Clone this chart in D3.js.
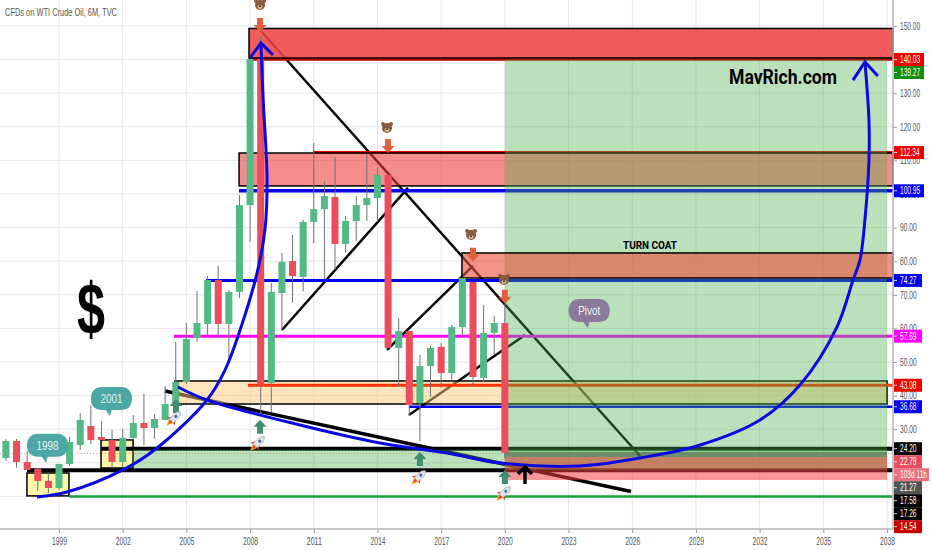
<!DOCTYPE html>
<html>
<head>
<meta charset="utf-8">
<script src="https://cdnjs.cloudflare.com/ajax/libs/d3/7.8.5/d3.min.js"></script>
<style>
  html, body { margin: 0; padding: 0; background: #fff; }
  svg { display: block; font-family: "Liberation Sans", sans-serif; }
</style>
</head>
<body>
<div id="chart"></div>
<script>
// half year candles, first one is 1996.5
var firstYear = 1996.5;
var candleOpen = [21.4, 26.5, 20.25, 18.15, 14.6, 12.5, 19.65, 25.3, 30.95, 27.7, 26.8, 20.25, 27.4, 31.85, 30.35, 32.75, 37.5, 44.05, 57.15, 61.3, 74.4, 61.3, 70.85, 96.7, 140.18, 43.75, 70.55, 80.05, 75.3, 91.7, 95.5, 99.1, 85.1, 91.95, 96.7, 98.8, 105.65, 54.2, 59.2, 37.8, 48.8, 54.5, 46.7, 60.4, 73.8, 45.25, 58.65, 61.6];
var candleHigh = [27, 27.1, 23.5, 18.45, 17, 19.65, 27.7, 34.8, 37.2, 32.4, 29.8, 30.1, 34.2, 40.5, 34.5, 42.85, 55.95, 61.6, 71.1, 75.6, 78.6, 71.45, 99.7, 140.18, 147, 73.5, 82.45, 87.8, 92.3, 115.2, 103.9, 111, 93.45, 99.4, 111.9, 108, 105.65, 63.1, 59.2, 52.1, 54.8, 55.7, 61, 75, 73.8, 66.95, 63.7, 67.25];
var candleLow = [20.55, 18.5, 17.85, 11.6, 11, 11.9, 19.05, 23.8, 25.6, 26.8, 18.5, 18.5, 26.8, 25.3, 27.1, 32.75, 37.5, 43.45, 55.95, 58, 57.15, 50.6, 69.05, 85.7, 34.5, 35.1, 59.5, 67.6, 71.1, 85.4, 74.7, 77.4, 82.45, 86, 91.95, 91.65, 54.2, 42.6, 33.95, 26.5, 39.6, 42.3, 44.35, 58, 42.55, 44.05, 52.1, 21.4];
var candleClose = [26.5, 20.25, 17.85, 14.6, 12.5, 19.65, 26.2, 32.75, 26.8, 26.8, 20.25, 27.4, 31.85, 30.35, 33.05, 37.5, 44.05, 56.85, 61.6, 74.4, 61.3, 70.85, 96.7, 140.18, 43.2, 70.85, 79.8, 75.6, 91.7, 95.5, 99.4, 85.1, 91.95, 96.7, 98.8, 105.65, 54.2, 59.2, 37.2, 48.8, 54.2, 46.7, 60.4, 75, 45.55, 58.65, 61.6, 23];

var yearTicks = [1999, 2002, 2005, 2008, 2011, 2014, 2017, 2020, 2023, 2026, 2029, 2032, 2035, 2038];
var priceTicks = [150, 140, 130, 120, 110, 100, 90, 80, 70, 60, 50, 40, 30, 20];
var priceGrid = priceTicks.concat([10]);
var plotEndYear = 2038.28;

// horizontal levels: price and the year each one starts at
var levelNames = ['peak', 'resistance', 'support', 'blueTop', 'pivot', 'orange', 'blueLow', 'blackTop', 'blackLow', 'floor'];
var levelPrices = [140.03, 112.34, 100.95, 74.27, 57.69, 43.08, 36.68, 24.2, 17.8, 10];
var levelStarts = [2007.95, 2010.96, 2007.48, 2005.92, 2004.42, 2007.9, 2015.48, 2000.98, 1997.49, 1999.47];

// boxes under the levels: year from, year to, price top, price bottom
var lowBoxNames = ['peach', 'yellow98', 'yellow01'];
var lowBoxYear0 = [2004.46, 1997.49, 2000.98];
var lowBoxYear1 = [2038, 1999.47, 2002.49];
var lowBoxTop = [44.35, 16.97, 26.8];
var lowBoxBottom = [37.5, 10.15, 18.46];

// boxes over the levels
var boxNames = ['top', 'middle', 'wideGreen', 'bigGreen', 'turnCoat', 'lowRed', 'lowGray'];
var boxYear0 = [2007.95, 2007.48, 2002.49, 2020, 2017.98, 2020, 2020];
var boxYear1 = [plotEndYear, plotEndYear, 2038, 2038, plotEndYear, 2038, 2038];
var boxPriceTop = [149.26, 112.2, 23.9, 140, 82.45, 21.74, 23.2];
var boxPriceBottom = [140.48, 102.4, 18.45, 17.87, 75, 14.9, 21.74];

// drawn trend lines: [year, price] pairs
var trendLines = [
  [[2008.47, 148.8], [2026.37, 22.03]],
  [[2009.5, 59.53], [2015.44, 101.8]],
  [[2014.45, 53.58], [2018.5, 78.58]],
  [[2015.48, 34.23], [2020.95, 58.04]],
  [[2003.99, 41.38], [2025.94, 11.47]]
];

// the two hand drawn blue arcs
var leftArc = [[1997.96, 9.83], [1999.38, 11.3], [2002.01, 17.87], [2003.62, 24.4], [2005.97, 38.7], [2006.82, 47.6], [2007.53, 59.5], [2008.33, 76.5], [2008.7, 89.3], [2008.8, 104.2], [2008.61, 128.9], [2008.51, 144.9]];
var leftHead = [[2008, 140.5], [2008.51, 144.9], [2009.08, 141.4]];
var rightArc = [[2004.6, 42.57], [2005.97, 38.7], [2010.35, 31.26], [2014.12, 25.9], [2017.27, 22.9], [2019.77, 19.95], [2023.54, 19.06], [2026.37, 21.44], [2029.2, 25.3], [2032.02, 32.75], [2033.9, 43.16], [2035.64, 60.4], [2036.4, 74.4], [2036.73, 80.4], [2036.96, 92.3], [2037.15, 110.1], [2037.15, 122], [2036.96, 139.3]];
var rightHead = [[2036.4, 133.9], [2036.96, 139.3], [2037.57, 135.1]];

// icons on the chart
var bears = [[2008.47, 156.25], [2014.45, 119.65], [2018.41, 87.8], [2019.96, 74.4]];
var downArrows = [[2008.47, 148.2], [2014.5, 112.2], [2018.5, 79.8], [2020, 67.3]];
var upArrows = [[2004.51, 39], [2008.47, 32.8], [2016, 23.2], [2020, 17.87]];
var rockets = [[2004.42, 33.3], [2008.37, 25.9], [2015.96, 15.8], [2019.96, 11]];
var blackArrow = [2020.95, 18.76];

var calloutTexts = ['1998', '2001', 'Pivot'];
var calloutTips = [[1998.39, 20], [2001.4, 33.9], [2023.9, 60.1]];

// stacked price labels on the right axis
var labelTexts = ['140.03', '139.27', '112.34', '100.95', '74.27', '57.69', '43.08', '36.68', '24.20', '22.79', '103d 11h', '21.27', '17.58', '17.26', '14.54'];
var labelPrices = [140.03, 139.27, 112.34, 100.95, 74.27, 57.69, 43.08, 36.68, 24.2, 22.79, 22.5, 21.27, 17.58, 17.26, 14.54];

var width = 932, height = 550;
var axisX = 893, axisY = 529;

var levelStyle = {
  peak: {c: '#c00000', w: 2.5}, resistance: {c: '#ee0000', w: 3},
  support: {c: '#0000ee', w: 3.5}, blueTop: {c: '#0000ee', w: 3},
  pivot: {c: '#ff00ff', w: 3}, orange: {c: '#ff3300', w: 3},
  blueLow: {c: '#0000ee', w: 2.5}, blackTop: {c: '#000', w: 4},
  blackLow: {c: '#000', w: 4}, floor: {c: '#1a9f3c', w: 2.5}
};
var boxStyle = {
  top: {f: '#ee4444', o: 0.88, s: '#000'}, middle: {f: '#ee3f3f', o: 0.6, s: '#000'},
  turnCoat: {f: '#e8503c', o: 0.62, s: '#000'}, peach: {f: '#fbc97a', o: 0.5, s: '#000'},
  wideGreen: {f: '#4caf50', o: 0.38, s: null}, bigGreen: {f: '#4caf50', o: 0.38, s: null},
  lowRed: {f: '#ee3f3f', o: 0.55, s: null}, lowGray: {f: '#404040', o: 0.45, s: null},
  yellow98: {f: '#fdf79a', o: 0.85, s: '#000'}, yellow01: {f: '#fdf79a', o: 0.85, s: '#000'}
};
var labelStyle = ['#f00000', '#109010', '#f00000', '#0000ee', '#0000ee', '#ff00ff', '#f00000', '#0000ee', '#000', '#eb4d5c', '#e9707c', '#555', '#000', '#000', '#c40000'];
var labelWidth = [30, 30, 30, 30, 28, 28, 28, 28, 28, 28, 35, 28, 28, 28, 28];

var x = d3.scaleLinear().domain([1999, 2038]).range([59, 887]);
var y = d3.scaleLinear().domain([150, 10]).range([26, 496.4]);

// the screenshot is squeezed sideways, so all small text is narrowed to this many px a letter
function squeeze(sel, perChar) {
  sel.attr('textLength', function () { return this.textContent.length * perChar; })
    .attr('lengthAdjust', 'spacingAndGlyphs');
}

var svg = d3.select('#chart').append('svg')
  .attr('width', width)
  .attr('height', height);

// grid
var grid = svg.append('g').attr('stroke', '#e6e6e6').attr('stroke-width', 1);
grid.selectAll('.v').data(yearTicks).enter().append('line')
  .attr('class', 'v')
  .attr('x1', function (d) { return x(d); })
  .attr('x2', function (d) { return x(d); })
  .attr('y1', 0).attr('y2', axisY);
grid.selectAll('.h').data(priceGrid).enter().append('line')
  .attr('class', 'h')
  .attr('x1', 0).attr('x2', axisX)
  .attr('y1', function (d) { return y(d); })
  .attr('y2', function (d) { return y(d); });

// trend lines sit under everything else
var trendWidth = [2.5, 2.5, 2.5, 2.5, 3.5];
var path = d3.line()
  .x(function (d) { return x(d[0]); })
  .y(function (d) { return y(d[1]); });
svg.append('g').selectAll('path').data(trendLines).enter().append('path')
  .attr('d', path)
  .attr('fill', 'none')
  .attr('stroke', '#000')
  .attr('stroke-width', function (d, i) { return trendWidth[i]; });

function drawBoxes(names, year0, year1, top, bottom) {
  svg.append('g').selectAll('rect').data(names).enter().append('rect')
    .attr('x', function (d, i) { return x(year0[i]); })
    .attr('y', function (d, i) { return y(top[i]); })
    .attr('width', function (d, i) { return x(year1[i]) - x(year0[i]); })
    .attr('height', function (d, i) { return y(bottom[i]) - y(top[i]); })
    .attr('fill', function (d) { return boxStyle[d].f; })
    .attr('fill-opacity', function (d) { return boxStyle[d].o; })
    .attr('stroke', function (d) { return boxStyle[d].s; })
    .attr('stroke-width', 1.5);
}

drawBoxes(lowBoxNames, lowBoxYear0, lowBoxYear1, lowBoxTop, lowBoxBottom);

// levels
svg.append('g').selectAll('line').data(levelNames).enter().append('line')
  .attr('x1', function (d, i) { return x(levelStarts[i]); })
  .attr('x2', axisX)
  .attr('y1', function (d, i) { return y(levelPrices[i]); })
  .attr('y2', function (d, i) { return y(levelPrices[i]); })
  .attr('stroke', function (d) { return levelStyle[d].c; })
  .attr('stroke-width', function (d) { return levelStyle[d].w; });

// last price dotted line
svg.append('line')
  .attr('x1', 0).attr('x2', axisX)
  .attr('y1', y(22.79)).attr('y2', y(22.79))
  .attr('stroke', '#eb4d5c')
  .attr('stroke-opacity', 0.6)
  .attr('stroke-dasharray', '1,2');

drawBoxes(boxNames, boxYear0, boxYear1, boxPriceTop, boxPriceBottom);

// candles
var candles = candleOpen.map(function (o, i) {
  return {t: firstYear + i * 0.5, o: o, h: candleHigh[i], l: candleLow[i], c: candleClose[i]};
});
var bodyW = x(0.33) - x(0);
var candle = svg.append('g').selectAll('g').data(candles).enter().append('g');
candle.append('line')
  .attr('x1', function (d) { return x(d.t); })
  .attr('x2', function (d) { return x(d.t); })
  .attr('y1', function (d) { return y(d.h); })
  .attr('y2', function (d) { return y(d.l); })
  .attr('stroke', '#737375')
  .attr('stroke-width', 1);
candle.append('rect')
  .attr('x', function (d) { return x(d.t) - bodyW / 2; })
  .attr('width', bodyW)
  .attr('y', function (d) { return y(Math.max(d.o, d.c)); })
  .attr('height', function (d) { return Math.max(1, Math.abs(y(d.o) - y(d.c))); })
  .attr('fill', function (d) { return d.c >= d.o ? '#53b987' : '#eb4d5c'; });

// blue arcs
var smooth = d3.line()
  .x(function (d) { return x(d[0]); })
  .y(function (d) { return y(d[1]); })
  .curve(d3.curveCatmullRom);
[leftArc, rightArc].forEach(function (arc) {
  svg.append('path').attr('d', smooth(arc))
    .attr('fill', 'none').attr('stroke', '#0a0ae0').attr('stroke-width', 3);
});
[leftHead, rightHead].forEach(function (head) {
  svg.append('path').attr('d', path(head))
    .attr('fill', 'none').attr('stroke', '#0a0ae0').attr('stroke-width', 3);
});

// icons
function translate(d) {
  return 'translate(' + x(d[0]) + ',' + y(d[1]) + ')';
}

svg.append('g').selectAll('path').data(downArrows).enter().append('path')
  .attr('transform', translate)
  .attr('d', 'M0,0L-6.5,-7L-3,-7L-3,-14L3,-14L3,-7L6.5,-7Z')
  .attr('fill', '#e0603f');

svg.append('g').selectAll('path').data(upArrows).enter().append('path')
  .attr('transform', translate)
  .attr('d', 'M0,0L-6.5,7L-3,7L-3,14L3,14L3,7L6.5,7Z')
  .attr('fill', '#3f8f6f');

var bear = svg.append('g').selectAll('g').data(bears).enter().append('g')
  .attr('transform', translate);
[[-4, -4, 2], [4, -4, 2], [0, 0, 5]].forEach(function (p) {
  bear.append('circle').attr('cx', p[0]).attr('cy', p[1]).attr('r', p[2]).attr('fill', '#8a5a3a');
});
bear.append('ellipse').attr('cy', 2).attr('rx', 2.6).attr('ry', 2).attr('fill', '#d9b48a');
bear.append('circle').attr('cy', 1.2).attr('r', 0.9).attr('fill', '#222');

var rocket = svg.append('g').selectAll('g').data(rockets).enter().append('g')
  .attr('transform', function (d) { return translate(d) + ' rotate(45)'; });
rocket.append('path').attr('d', 'M-3,4L0,11L3,4Z').attr('fill', '#f5a623');
rocket.append('path').attr('d', 'M-1.5,4L0,8L1.5,4Z').attr('fill', '#e0301e');
rocket.append('path').attr('d', 'M-3,4L-3,-3Q-3,-7 0,-9Q3,-7 3,-3L3,4Z')
  .attr('fill', '#dfe4ea').attr('stroke', '#8a8f98').attr('stroke-width', 0.5);
rocket.append('circle').attr('cy', -2.5).attr('r', 1.5).attr('fill', '#3b6fb5');
rocket.append('path').attr('d', 'M-3,1L-5.5,5L-3,4ZM3,1L5.5,5L3,4Z').attr('fill', '#d0342c');

svg.append('path')
  .attr('transform', translate(blackArrow))
  .attr('d', 'M-7,7L0,0L7,7M0,0L0,17')
  .attr('fill', 'none')
  .attr('stroke', '#000')
  .attr('stroke-width', 3.5);

// callouts
var calloutFill = ['#4ba8a5', '#4ba8a5', '#8c7a9c'];
var callout = svg.append('g').selectAll('g').data(calloutTexts).enter().append('g')
  .attr('transform', function (d, i) { return translate(calloutTips[i]); });
callout.append('rect')
  .attr('x', -19).attr('y', -29).attr('width', 41).attr('height', 23).attr('rx', 10)
  .attr('fill', function (d, i) { return calloutFill[i]; });
callout.append('path')
  .attr('d', 'M-5,-7L0,0L2,-7Z')
  .attr('fill', function (d, i) { return calloutFill[i]; });
callout.append('text')
  .attr('x', 1.5).attr('y', -13)
  .attr('text-anchor', 'middle')
  .attr('font-size', 13)
  .attr('fill', '#fff')
  .attr('fill-opacity', 0.9)
  .attr('textLength', 22).attr('lengthAdjust', 'spacingAndGlyphs')
  .text(function (d) { return d; });

// texts
svg.append('text').attr('x', 5).attr('y', 16)
  .attr('font-size', 10).attr('fill', '#555')
  .attr('textLength', 112).attr('lengthAdjust', 'spacingAndGlyphs')
  .text('CFDs on WTI Crude Oil, 6M, TVC');
svg.append('text').attr('x', 91).attr('y', 334)
  .attr('text-anchor', 'middle')
  .attr('font-size', 72)
  .attr('font-weight', 'bold')
  .attr('fill', '#000')
  .attr('textLength', 28).attr('lengthAdjust', 'spacingAndGlyphs')
  .text('$');
svg.append('text').attr('x', 729).attr('y', 84)
  .attr('font-family', 'Roboto')
  .attr('font-size', 20).attr('font-weight', 'bold').attr('fill', '#000')
  .attr('textLength', 108).attr('lengthAdjust', 'spacingAndGlyphs')
  .text('MavRich.com');
svg.append('text').attr('x', 623).attr('y', 249)
  .attr('font-family', 'Roboto')
  .attr('font-size', 11).attr('font-weight', 'bold').attr('fill', '#000')
  .attr('textLength', 54).attr('lengthAdjust', 'spacingAndGlyphs')
  .text('TURN COAT');

// axes
var yAxis = svg.append('g')
  .attr('transform', 'translate(' + axisX + ',0)')
  .call(d3.axisRight(y).tickValues(priceTicks).tickSize(4).tickPadding(3)
    .tickFormat(d3.format('.2f')));
var xAxis = svg.append('g')
  .attr('transform', 'translate(0,' + axisY + ')')
  .call(d3.axisBottom(x).tickValues(yearTicks).tickSize(4).tickPadding(5)
    .tickFormat(d3.format('d')));
[yAxis, xAxis].forEach(function (a) {
  a.select('.domain').remove();
  a.selectAll('line').attr('stroke', '#9a9a9a');
  a.selectAll('text').attr('fill', '#555').attr('font-size', 10)
    .attr('font-family', '"Liberation Sans", sans-serif');
});
squeeze(yAxis.selectAll('text'), 3.35);
squeeze(xAxis.selectAll('text'), 3.75);
svg.append('line').attr('x1', axisX).attr('x2', axisX).attr('y1', 0).attr('y2', axisY)
  .attr('stroke', '#b5b5b5').attr('stroke-width', 1.5);
svg.append('line').attr('x1', 0).attr('x2', axisX).attr('y1', axisY).attr('y2', axisY)
  .attr('stroke', '#b5b5b5').attr('stroke-width', 1.5);

// price labels, pushed down so they do not overlap
var labelH = 13, lastY = -100;
var labelG = svg.append('g').selectAll('g').data(labelTexts).enter().append('g')
  .attr('transform', function (d, i) {
    var ly = Math.max(y(labelPrices[i]), lastY + labelH);
    lastY = ly;
    return 'translate(' + (axisX + 1) + ',' + ly + ')';
  });
labelG.append('rect')
  .attr('x', 0).attr('y', -labelH / 2)
  .attr('width', function (d, i) { return labelWidth[i]; })
  .attr('height', labelH)
  .attr('fill', function (d, i) { return labelStyle[i]; });
labelG.append('line')
  .attr('x1', 0).attr('x2', 3)
  .attr('stroke', '#fff').attr('stroke-opacity', 0.8);
labelG.append('text')
  .attr('transform', 'translate(6,3.5) scale(0.66,1)')
  .attr('font-size', 10)
  .attr('fill', '#fff')
  .text(function (d) { return d; });
</script>
</body>
</html>
